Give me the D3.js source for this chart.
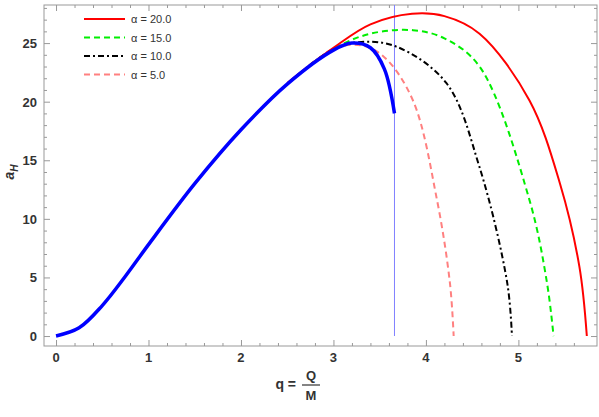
<!DOCTYPE html><html><head><script src="https://cdn.jsdelivr.net/npm/d3@7"></script>
<style>body{margin:0;background:#fff}text{font-family:"Liberation Sans",Arial,sans-serif}</style></head><body>
<svg id="c" width="599" height="417"></svg>
<script>
const blueQ=[0,0.25,0.5,0.75,1,1.5,2,2.5,3,3.2,3.4,3.55,3.66];
const blueA=[0,0.7,2.6,5.1,7.8,13.0,17.6,21.5,24.4,25.0,24.6,22.8,19.0];
const redQ=[2.5,3,3.4,3.85,4.2,4.58,5.12,5.45,5.66,5.74];
const redA=[21.6,24.6,26.6,27.5,27.3,25.8,20.1,13.0,5.9,0];
const greenQ=[2.5,3,3.4,3.86,4.2,4.58,5.12,5.31,5.38];
const greenA=[21.5,24.5,25.8,26.1,25.4,23.0,11.6,4.5,0];
const blackQ=[2.5,3,3.3,3.68,4.22,4.58,4.88,4.93];
const blackA=[21.5,24.5,25.1,24.7,21.6,14.4,4.5,0];
const pinkQ=[2.5,3,3.3,3.55,3.86,4.12,4.26,4.30];
const pinkA=[21.5,24.5,24.8,23.8,20.1,11.6,4.5,0];
const xTicks=[0,1,2,3,4,5], yTicks=[0,5,10,15,20,25];
const legend=["α = 20.0","α = 15.0","α = 10.0","α = 5.0"];
const svg=d3.select("#c");
const L=44,R=597,T=5,B=346;
const x=d3.scaleLinear().domain([-0.13,5.85]).range([L,R]);
const y=d3.scaleLinear().domain([-0.85,28.25]).range([B,T]);
svg.append("rect").attr("x",L).attr("y",T).attr("width",R-L).attr("height",B-T).attr("fill","none").attr("stroke","#999");
const ax=svg.append("g").attr("transform",`translate(0,${B})`).call(d3.axisBottom(x).tickValues(d3.range(0,5.8,0.2)).tickFormat(""));
ax.selectAll("line").attr("stroke","#999").attr("y2",d=>Math.abs(d-Math.round(d))<1e-6?-6:-3);ax.select(".domain").remove();
const axT=svg.append("g").attr("transform",`translate(0,${T})`).call(d3.axisTop(x).tickValues(d3.range(0,5.8,0.2)).tickFormat(""));
axT.selectAll("line").attr("stroke","#999").attr("y2",d=>Math.abs(d-Math.round(d))<1e-6?6:3);axT.select(".domain").remove();
const ay=svg.append("g").attr("transform",`translate(${L},0)`).call(d3.axisLeft(y).tickValues(d3.range(0,28.1,1)).tickFormat(""));
ay.selectAll("line").attr("stroke","#999").attr("x2",d=>d%5==0?6:3);ay.select(".domain").remove();
const ayR=svg.append("g").attr("transform",`translate(${R},0)`).call(d3.axisRight(y).tickValues(d3.range(0,28.1,1)).tickFormat(""));
ayR.selectAll("line").attr("stroke","#999").attr("x2",d=>d%5==0?-6:-3);ayR.select(".domain").remove();
xTicks.forEach(t=>svg.append("text").attr("x",x(t)).attr("y",B+16).attr("text-anchor","middle").attr("font-size",13).attr("font-weight","bold").attr("fill","#333").text(t));
yTicks.forEach(t=>svg.append("text").attr("x",L-7).attr("y",y(t)+5).attr("text-anchor","end").attr("font-size",13).attr("font-weight","bold").attr("fill","#333").text(t));
const line=d3.line().x(d=>x(d[0])).y(d=>y(d[1])).curve(d3.curveCatmullRom.alpha(0.5));
const z=(a,b)=>a.map((v,i)=>[v,b[i]]);
svg.append("line").attr("x1",x(3.66)).attr("x2",x(3.66)).attr("y1",T).attr("y2",B-10).attr("stroke","#8080ff").attr("stroke-width",1);
const series=[[redQ,redA,"#ff0000",null],[greenQ,greenA,"#00ee00","6,4"],[blackQ,blackA,"#000","6,3,2,3"],[pinkQ,pinkA,"#ff8080","6,4"]];
series.slice().reverse().forEach(s=>svg.append("path").attr("d",line(z(s[0],s[1]))).attr("fill","none").attr("stroke",s[2]).attr("stroke-width",2).attr("stroke-dasharray",s[3]));
svg.append("path").attr("d",line(z(blueQ,blueA))).attr("fill","none").attr("stroke","#0000ff").attr("stroke-width",3.5);
series.forEach((s,i)=>{const yy=19+i*18.5;
svg.append("line").attr("x1",84).attr("x2",125).attr("y1",yy).attr("y2",yy).attr("stroke",s[2]).attr("stroke-width",2).attr("stroke-dasharray",s[3]);
svg.append("text").attr("x",131).attr("y",yy+4).attr("font-size",11).attr("fill","#333").text(legend[i]);});
const yl=svg.append("text").attr("transform",`translate(14,${y(14)}) rotate(-90)`).attr("text-anchor","middle").attr("font-size",14).attr("font-weight","bold").attr("fill","#333");
yl.append("tspan").attr("font-style","italic").text("a");yl.append("tspan").attr("font-size",10).attr("dy",4).attr("font-style","italic").text("H");
const g=svg.append("g").attr("font-weight","bold").attr("fill","#333");
g.append("text").attr("x",296).attr("y",389).attr("text-anchor","end").attr("font-size",14).text("q =");
g.append("text").attr("x",311).attr("y",380).attr("text-anchor","middle").attr("font-size",13).text("Q");
g.append("line").attr("x1",302).attr("x2",320).attr("y1",385).attr("y2",385).attr("stroke","#333").attr("stroke-width",1.2);
g.append("text").attr("x",311).attr("y",400).attr("text-anchor","middle").attr("font-size",13).text("M");
</script></body></html>
